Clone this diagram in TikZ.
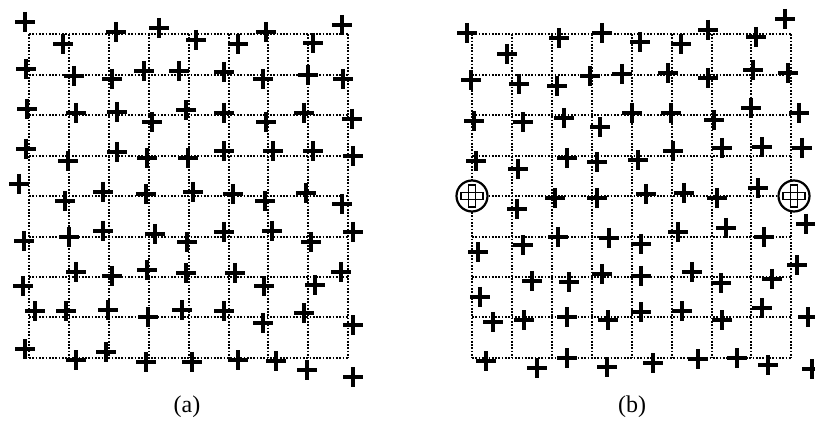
\documentclass[tikz,border=0pt]{standalone}
\usepackage{fontspec}
\setmainfont{Liberation Serif}
\begin{document}
\begin{tikzpicture}[x=1pt,y=-1pt,
  gridline/.style={line width=1.8pt,dash pattern=on 1.7pt off 1.6pt,black},
  plusarm/.style={line width=4.2pt,line cap=butt,black},
  ringmark/.style={line width=2.2pt,draw=black,fill=white},
  hollowbar/.style={line width=1.6pt,draw=black},
  caption/.style={font=\fontsize{24}{26}\selectfont,inner sep=0pt}]
\useasboundingbox (0,0) rectangle (815,425);
\clip (0,0) rectangle (815,425);
% grid (a)
\foreach \x in {29,69,109,149,189,229,268,308,348}
  \draw[gridline] (\x,34) -- (\x,358);
\foreach \y in {34,75,115,156,196,237,277,317,358}
  \draw[gridline] (29,\y) -- (348,\y);
% grid (b)
\foreach \x in {472,512,552,592,632,672,712,751,791}
  \draw[gridline] (\x,34) -- (\x,358);
\foreach \y in {34,75,115,156,196,237,277,317,358}
  \draw[gridline] (472,\y) -- (791,\y);
% markers (a)
\foreach \px/\py in {
  25/22,63/44,116/32,159/28,196/40,238/44,266/32,313/43,342/25,
  26/69,74/76,112/79,144/71,179/71,224/72,263/79,308/75,343/79,
  27/109,76/113,117/112,152/122,186/110,224/113,266/122,304/113,352/119,
  26/149,68/161,117/152,147/158,188/158,224/151,273/151,313/151,353/156,
  19/184,65/201,103/192,146/194,193/192,233/194,265/201,306/193,342/204,
  24/241,69/237,103/231,155/234,187/242,224/232,272/231,311/242,353/232,
  23/286,76/272,112/276,147/270,186/273,235/273,264/286,315/285,341/272,
  35/311,66/311,108/310,148/317,182/310,224/311,263/323,304/313,353/325,
  25/349,76/360,106/352,146/362,192/362,238/360,276/361,307/370,353/377}
  \draw[plusarm] (\px-10,\py) -- (\px+10,\py) (\px,\py-10) -- (\px,\py+10);
% markers (b)
\foreach \px/\py in {
  467/33,507/54,559/38,602/33,640/42,681/44,708/30,756/37,785/19,
  471/80,519/84,557/86,590/76,622/74,668/73,708/78,753/70,788/73,
  474/121,523/122,564/118,600/127,632/113,671/113,714/120,751/108,799/113,
  476/161,518/169,567/158,597/162,638/160,673/151,722/148,762/147,802/148,
  517/209,555/198,597/198,646/194,684/193,717/198,758/188,
  478/252,523/245,558/237,609/238,641/244,678/232,726/228,764/237,806/224,
  480/297,532/281,569/282,602/274,641/276,692/272,721/283,772/279,797/265,
  493/322,524/320,567/317,608/320,641/312,682/311,722/320,762/308,808/317,
  486/361,537/368,567/358,607/367,653/363,698/359,737/358,768/365,812/369}
  \draw[plusarm] (\px-10,\py) -- (\px+10,\py) (\px,\py-10) -- (\px,\py+10);
% circled markers (b)
\foreach \cx/\cy in {472/196,794/196}{
  \draw[ringmark] (\cx,\cy) circle[radius=15.5];
  \draw[hollowbar] (\cx-11,\cy-3.5) rectangle (\cx+11,\cy+3.5);
  \draw[hollowbar] (\cx-3.5,\cy-11) rectangle (\cx+3.5,\cy+11);
}
% captions
\node[caption] (capa) at (187,407) {(a)};
\node[caption] (capb) at (632,407) {(b)};
\end{tikzpicture}
\end{document}
